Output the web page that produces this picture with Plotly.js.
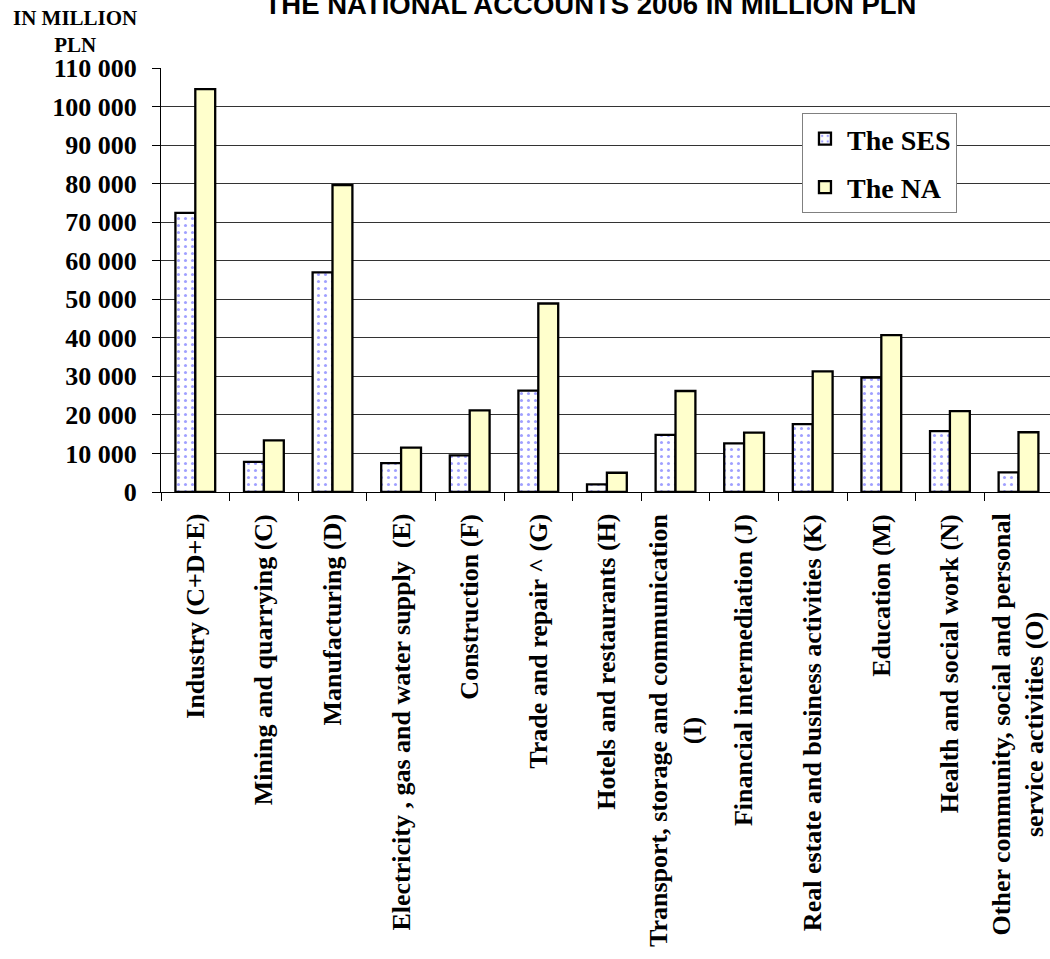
<!DOCTYPE html>
<html><head><meta charset="utf-8">
<script src="https://cdn.plot.ly/plotly-3.0.1.min.js"></script>
<style>html,body{margin:0;padding:0;background:#fff}</style>
</head><body><div id="chart" style="width:1050px;height:959px"></div>
<script>
const categories = [
  'Industry (C+D+E)',
  'Mining and quarrying (C)',
  'Manufacturing (D)',
  'Electricity , gas and water supply\u00a0 (E)',
  'Construction (F)',
  'Trade and repair ^ (G)',
  'Hotels and restaurants (H)',
  'Transport, storage and communication<br>(I)',
  'Financial intermediation (J)',
  'Real estate and business activities (K)',
  'Education (M)',
  'Health and social work (N)',
  'Other community, social and personal<br>service activities (O)'
];
const sesValues = [72400, 7800, 57000, 7500, 9500, 26300, 2000, 14800, 12600, 17600, 29700, 15800, 5100];
const naValues  = [104500, 13400, 79600, 11500, 21200, 48900, 5000, 26200, 15400, 31300, 40700, 21000, 15500];
const seriesNames = ['The SES', 'The NA'];
const yTickValues = [0, 10000, 20000, 30000, 40000, 50000, 60000, 70000, 80000, 90000, 100000, 110000];
const yTickLabels = ['0', '10 000', '20 000', '30 000', '40 000', '50 000', '60 000', '70 000', '80 000', '90 000', '100 000', '110 000'];
const titleText = 'THE NATIONAL ACCOUNTS 2006 IN MILLION PLN';
const yTitleText = 'IN MILLION<br>PLN';

const serif = 'Liberation Serif, Times New Roman, serif';
const sans = 'Liberation Sans, Arial, sans-serif';

const traces = [
  {
    type: 'bar', name: seriesNames[0], x: categories, y: sesValues,
    legendgroup: 'a',
    marker: {
      color: '#ffffff',
      line: {color: '#000000', width: 2.3},
      pattern: {shape: '.', fgcolor: '#a0a0ff', bgcolor: '#ffffff', size: 7, solidity: 0.15}
    },
    hoverinfo: 'x+y'
  },
  {
    type: 'bar', name: seriesNames[1], x: categories, y: naValues,
    legendgroup: 'b',
    marker: {color: '#ffffcc', line: {color: '#000000', width: 2.3}},
    hoverinfo: 'x+y'
  },
  {
    type: 'scatter', x: [], y: [], yaxis: 'y2', showlegend: false, hoverinfo: 'skip'
  }
];

const gridVals = yTickValues.slice(1, yTickValues.length - 1);

const annotations = categories.map(c => ({
  x: c, xref: 'x', y: -0.047, yref: 'paper',
  xanchor: 'center', yanchor: 'top',
  text: c, textangle: -90, showarrow: false, align: 'center',
  font: {family: serif, size: 26, color: '#000'}
}));
annotations.push({
  x: -0.0967, xref: 'paper', y: 1.148, yref: 'paper',
  xanchor: 'center', yanchor: 'top', align: 'center', borderpad: 0,
  text: yTitleText, showarrow: false,
  font: {family: serif, size: 21, color: '#000'}
});
annotations.forEach(a => { a.font.weight = 'bold'; });

const layout = {
  width: 1050, height: 959,
  margin: {l: 161, r: 0, t: 68, b: 467, pad: 0},
  paper_bgcolor: '#ffffff', plot_bgcolor: 'rgba(0,0,0,0)',
  title: {
    text: titleText,
    font: {family: sans, size: 27.5, color: '#000', weight: 'bold'},
    x: 0.5624, xref: 'container', xanchor: 'center',
    y: 0.9854, yref: 'container', yanchor: 'bottom'
  },
  barmode: 'group', bargap: 0.42, bargroupgap: 0,
  showlegend: true,
  legend: {
    x: 0.721, y: 0.894, xanchor: 'left', yanchor: 'top',
    bgcolor: '#ffffff', bordercolor: '#808080', borderwidth: 1,
    font: {family: serif, size: 28, color: '#000', weight: 'bold'},
    traceorder: 'grouped', tracegroupgap: 9, itemwidth: 34
  },
  xaxis: {
    type: 'category', range: [-0.5, 12.459],
    showticklabels: false, ticks: 'outside', tickson: 'boundaries',
    ticklen: 8, tickcolor: '#000', tickwidth: 1,
    showline: true, linecolor: '#000', linewidth: 1,
    showgrid: false, zeroline: false, fixedrange: true
  },
  yaxis: {
    range: [0, 110000], tickmode: 'array', tickvals: yTickValues, ticktext: yTickLabels,
    ticks: 'outside', ticklen: 8, tickcolor: '#000', tickwidth: 1, ticklabelstandoff: 10,
    tickfont: {family: serif, size: 26, color: '#000', weight: 'bold'},
    showline: true, linecolor: '#000', linewidth: 1,
    showgrid: false, zeroline: false, fixedrange: true
  },
  yaxis2: {
    overlaying: 'y', side: 'left', anchor: 'x',
    range: [0, 110000], tickmode: 'array', tickvals: gridVals,
    showticklabels: false, ticks: '', showline: false,
    showgrid: true, gridcolor: '#333333', gridwidth: 1, zeroline: false, fixedrange: true
  },
  annotations: annotations
};

Plotly.newPlot('chart', traces, layout, {displayModeBar: false, responsive: false});
</script></body></html>
